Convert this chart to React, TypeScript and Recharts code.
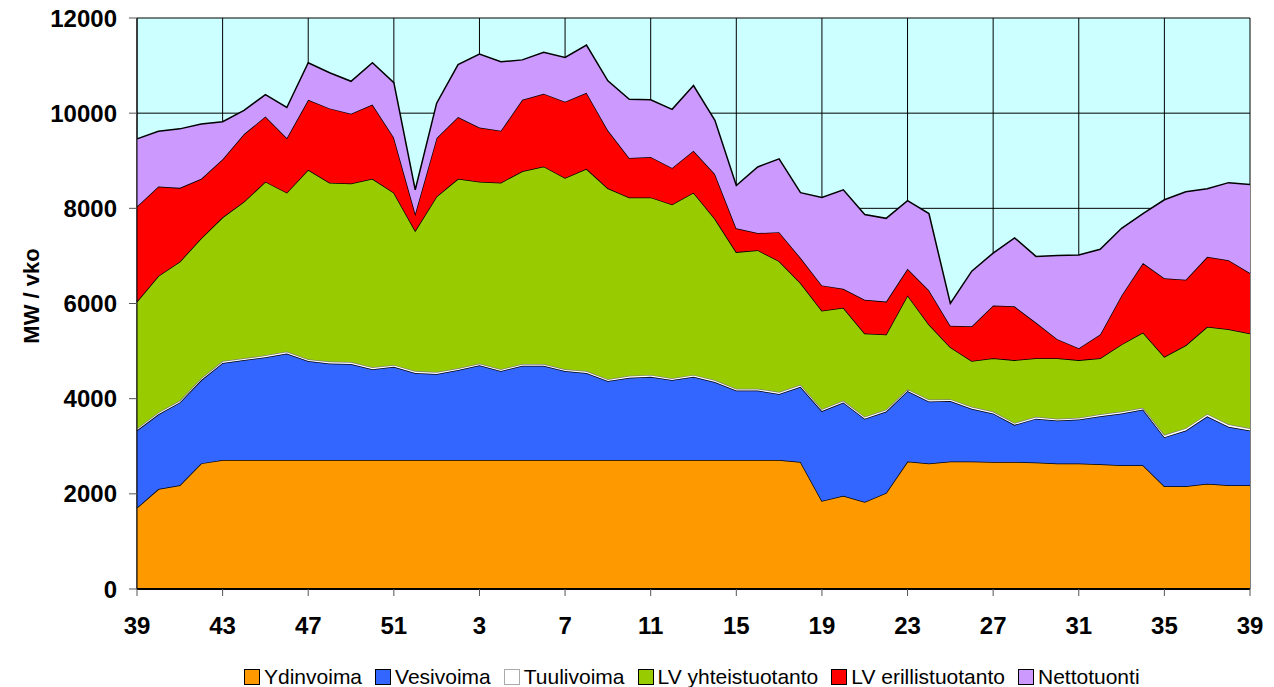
import React from "react";
import { AreaChart, Area, XAxis, YAxis, CartesianGrid, Legend, Label } from "recharts";

const weeks = [39, 40, 41, 42, 43, 44, 45, 46, 47, 48, 49, 50, 51, 52, 1, 2, 3, 4, 5, 6, 7, 8, 9, 10, 11, 12, 13, 14, 15, 16, 17, 18, 19, 20, 21, 22, 23, 24, 25, 26, 27, 28, 29, 30, 31, 32, 33, 34, 35, 36, 37, 38, 39];
const xTickIdx = [0, 4, 8, 12, 16, 20, 24, 28, 32, 36, 40, 44, 48, 52];
const yTicks = [0, 2000, 4000, 6000, 8000, 10000, 12000];

const ydinvoima = [1710, 2100, 2180, 2640, 2710, 2710, 2710, 2710, 2710, 2710, 2710, 2710, 2710, 2710, 2710, 2710, 2710, 2710, 2710, 2710, 2710, 2710, 2710, 2710, 2710, 2710, 2710, 2710, 2710, 2710, 2710, 2670, 1850, 1960, 1830, 2020, 2680, 2640, 2680, 2680, 2670, 2670, 2660, 2640, 2640, 2620, 2600, 2600, 2160, 2160, 2210, 2180, 2180];
const vesivoima = [1625, 1570, 1740, 1750, 2040, 2100, 2160, 2240, 2080, 2030, 2020, 1910, 1960, 1830, 1810, 1890, 1990, 1870, 1980, 1980, 1870, 1830, 1660, 1730, 1750, 1680, 1750, 1640, 1460, 1460, 1390, 1580, 1890, 1960, 1750, 1710, 1480, 1300, 1270, 1110, 1020, 780, 920, 900, 920, 1010, 1090, 1170, 1030, 1170, 1420, 1230, 1150];
const tuulivoima = [40, 40, 40, 40, 40, 40, 40, 40, 40, 40, 40, 40, 40, 40, 40, 40, 40, 40, 40, 40, 40, 40, 40, 40, 40, 40, 40, 40, 40, 40, 40, 40, 40, 40, 40, 40, 40, 40, 40, 40, 40, 40, 40, 40, 40, 40, 40, 40, 50, 50, 50, 50, 50];
const lvYhteis = [2665, 2870, 2920, 2940, 3020, 3290, 3650, 3340, 3980, 3760, 3750, 3960, 3620, 2950, 3690, 3980, 3820, 3920, 4050, 4150, 4020, 4250, 4010, 3750, 3730, 3650, 3830, 3390, 2870, 2910, 2750, 2140, 2070, 1950, 1750, 1580, 1970, 1580, 1090, 960, 1120, 1320, 1230, 1270, 1210, 1180, 1410, 1580, 1640, 1740, 1830, 2000, 1990];
const lvErillis = [2000, 1880, 1550, 1250, 1220, 1420, 1370, 1150, 1470, 1560, 1470, 1560, 1160, 360, 1230, 1300, 1140, 1090, 1500, 1530, 1600, 1600, 1220, 830, 850, 770, 880, 940, 500, 360, 610, 530, 530, 400, 710, 690, 560, 720, 450, 730, 1110, 1130, 750, 400, 250, 500, 1030, 1460, 1650, 1380, 1470, 1450, 1270];
const nettotuonti = [1420, 1160, 1240, 1150, 790, 500, 460, 640, 780, 750, 680, 880, 1150, 500, 730, 1100, 1540, 1450, 840, 870, 930, 1000, 1040, 1230, 1200, 1230, 1370, 1130, 900, 1390, 1540, 1370, 1850, 2080, 1790, 1750, 1430, 1610, 470, 1160, 1100, 1440, 1390, 1760, 1960, 1790, 1410, 1040, 1650, 1850, 1430, 1630, 1860];

const data = weeks.map((w, i) => ({
  idx: i,
  week: w,
  Ydinvoima: ydinvoima[i],
  Vesivoima: vesivoima[i],
  Tuulivoima: tuulivoima[i],
  "LV yhteistuotanto": lvYhteis[i],
  "LV erillistuotanto": lvErillis[i],
  Nettotuonti: nettotuonti[i],
}));

const series = [
  { key: "Ydinvoima", fill: "#FF9900", stroke: "#000000" },
  { key: "Vesivoima", fill: "#3366FF", stroke: "#000000" },
  { key: "Tuulivoima", fill: "#FFFFFF", stroke: "#808080" },
  { key: "LV yhteistuotanto", fill: "#99CC00", stroke: "#000000" },
  { key: "LV erillistuotanto", fill: "#FF0000", stroke: "#000000" },
  { key: "Nettotuonti", fill: "#CC99FF", stroke: "#000000" },
];

const FONT = "'Liberation Sans', Arial, sans-serif";

const LegendContent = () => (
  <div
    style={{
      display: "flex",
      alignItems: "center",
      paddingTop: 26,
      paddingLeft: 236,
      fontFamily: FONT,
      fontSize: 21,
      lineHeight: "24px",
      color: "#000",
      whiteSpace: "nowrap",
    }}
  >
    {series.map((s) => (
      <div key={s.key} style={{ display: "flex", alignItems: "center", marginRight: 13 }}>
        <span
          style={{
            display: "inline-block",
            width: 14,
            height: 14,
            background: s.fill,
            border: "1px solid " + (s.key === "Tuulivoima" ? "#aaaaaa" : "#000"),
            marginRight: 4,
          }}
        />
        <span>{s.key}</span>
      </div>
    ))}
  </div>
);

export default function App() {
  return (
    <div style={{ width: 1258, height: 687, marginTop: -8 }}>
      <AreaChart
        width={1258}
        height={687}
        data={data}
        margin={{ top: 18, right: 16, left: 0, bottom: 0 }}
      >
        <CartesianGrid stroke="#000000" strokeWidth={1} fill="#CCFFFF" fillOpacity={1} />
        <XAxis
          dataKey="idx"
          type="number"
          domain={[0, 52]}
          ticks={xTickIdx}
          tickFormatter={(v: number) => String(weeks[v])}
          interval={0}
          height={50}
          tickSize={7}
          tickMargin={21}
          axisLine={{ stroke: "#000", strokeWidth: 2 }}
          tickLine={{ stroke: "#555" }}
          tick={{ fill: "#000", fontSize: 24, fontWeight: "bold", fontFamily: FONT }}
        />
        <YAxis
          domain={[0, 12000]}
          ticks={yTicks}
          interval={0}
          width={129}
          tickSize={8}
          tickMargin={12}
          axisLine={{ stroke: "#000", strokeWidth: 1 }}
          tickLine={{ stroke: "#555" }}
          tick={{ fill: "#000", fontSize: 24, fontWeight: "bold", fontFamily: FONT }}
        >
          <Label
            content={() => (
              <text
                x={23}
                y={296}
                transform="rotate(-90 23 296)"
                textAnchor="middle"
                dominantBaseline="central"
                style={{ fontFamily: FONT, fontSize: 22, fontWeight: "bold", fill: "#000" }}
              >
                MW / vko
              </text>
            )}
          />
        </YAxis>
        {series.map((s) => (
          <Area
            key={s.key}
            type="linear"
            dataKey={s.key}
            stackId="1"
            fill={s.fill}
            fillOpacity={1}
            stroke={s.stroke}
            strokeWidth={1.5}
            isAnimationActive={false}
          />
        ))}
        <Legend verticalAlign="bottom" height={48} content={<LegendContent />} />
      </AreaChart>
    </div>
  );
}
